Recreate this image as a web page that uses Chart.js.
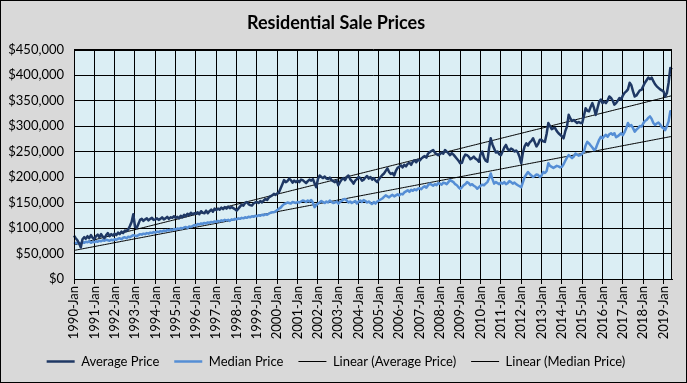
<!DOCTYPE html>
<html><head><meta charset="utf-8">
<script src="https://cdn.jsdelivr.net/npm/chart.js@4"></script>
<style>html,body{margin:0;padding:0;background:#d9d9d9;}#wrap{width:687px;height:383px;}</style>
</head><body><div id="wrap"><canvas id="c" width="687" height="383"></canvas></div>
<script>
const firstYear = 1990;
const monthNames = ['Jan','Feb','Mar','Apr','May','Jun','Jul','Aug','Sep','Oct','Nov','Dec'];

const avgPrice = [
 85000, 80000, 76000, 70000, 62000, 78000, 82000, 79000, 84000, 80000, 86000, 81000, // 1990
 78000, 84000, 87000, 82000, 88000, 83000, 80000, 86000, 90000, 84000, 88000, 85000, // 1991
 89000, 86000, 91000, 88000, 93000, 90000, 95000, 94000, 97000, 104000, 112000, 127000, // 1992
 103000, 100000, 108000, 116000, 118000, 114000, 117000, 119000, 115000, 118000, 120000, 116000, // 1993
 117000, 119000, 116000, 118000, 121000, 117000, 119000, 122000, 118000, 121000, 120000, 123000, // 1994
 120000, 122000, 119000, 124000, 121000, 126000, 123000, 128000, 125000, 130000, 127000, 129000, // 1995
 128000, 131000, 127000, 133000, 130000, 129000, 134000, 129000, 133000, 136000, 132000, 138000, // 1996
 135000, 138000, 136000, 140000, 137000, 141000, 138000, 142000, 139000, 141000, 139000, 137000, // 1997
 134000, 138000, 142000, 146000, 144000, 149000, 151000, 147000, 145000, 144000, 148000, 150000, // 1998
 151000, 149000, 153000, 150000, 154000, 157000, 155000, 160000, 162000, 164000, 167000, 165000, // 1999
 168000, 170000, 178000, 186000, 194000, 190000, 192000, 197000, 194000, 189000, 193000, 190000, // 2000
 193000, 190000, 195000, 194000, 191000, 188000, 192000, 195000, 193000, 196000, 188000, 180000, // 2001
 196000, 203000, 200000, 198000, 201000, 197000, 196000, 199000, 194000, 192000, 190000, 193000, // 2002
 184000, 190000, 195000, 198000, 194000, 200000, 203000, 196000, 192000, 187000, 193000, 196000, // 2003
 200000, 198000, 193000, 195000, 199000, 202000, 197000, 200000, 195000, 198000, 193000, 190000, // 2004
 196000, 200000, 204000, 207000, 212000, 217000, 210000, 206000, 208000, 203000, 212000, 218000, // 2005
 220000, 223000, 219000, 224000, 221000, 226000, 228000, 224000, 230000, 233000, 229000, 234000, // 2006
 232000, 236000, 239000, 241000, 238000, 246000, 249000, 251000, 253000, 248000, 245000, 243000, // 2007
 245000, 248000, 246000, 253000, 250000, 247000, 243000, 247000, 244000, 240000, 236000, 232000, // 2008
 227000, 228000, 238000, 244000, 243000, 240000, 235000, 237000, 240000, 236000, 234000, 230000, // 2009
 245000, 250000, 238000, 232000, 230000, 256000, 276000, 264000, 256000, 248000, 250000, 245000, // 2010
 243000, 250000, 258000, 263000, 255000, 252000, 256000, 254000, 250000, 252000, 248000, 240000, // 2011
 227000, 248000, 260000, 266000, 262000, 268000, 271000, 276000, 268000, 260000, 265000, 273000, // 2012
 273000, 270000, 269000, 285000, 306000, 300000, 294000, 296000, 296000, 290000, 286000, 283000, // 2013
 280000, 276000, 290000, 299000, 322000, 315000, 310000, 312000, 309000, 306000, 308000, 306000, // 2014
 306000, 320000, 335000, 330000, 329000, 338000, 345000, 335000, 322000, 335000, 348000, 352000, // 2015
 345000, 348000, 345000, 350000, 358000, 355000, 350000, 342000, 345000, 350000, 355000, 352000, // 2016
 360000, 365000, 368000, 372000, 385000, 380000, 368000, 358000, 360000, 365000, 370000, 371000, // 2017
 378000, 385000, 390000, 395000, 392000, 395000, 388000, 382000, 378000, 375000, 372000, 370000, // 2018
 368000, 358000, 365000, 385000, 414000, 411000 // 2019
];

const medianPrice = [
 72000, 70000, 71000, 69000, 70000, 72000, 71000, 73000, 72000, 74000, 71000, 73000, // 1990
 72000, 74000, 73000, 75000, 74000, 76000, 75000, 77000, 76000, 75000, 77000, 76000, // 1991
 78000, 77000, 79000, 80000, 78000, 81000, 82000, 80000, 83000, 82000, 84000, 86000, // 1992
 85000, 84000, 86000, 88000, 87000, 89000, 88000, 90000, 89000, 91000, 90000, 92000, // 1993
 91000, 93000, 92000, 94000, 93000, 95000, 94000, 96000, 95000, 97000, 96000, 98000, // 1994
 97000, 99000, 98000, 100000, 99000, 101000, 102000, 100000, 103000, 102000, 104000, 106000, // 1995
 105000, 108000, 107000, 109000, 108000, 110000, 109000, 111000, 110000, 112000, 111000, 113000, // 1996
 112000, 114000, 113000, 115000, 114000, 116000, 115000, 116000, 114000, 117000, 116000, 118000, // 1997
 117000, 119000, 118000, 120000, 119000, 121000, 120000, 122000, 121000, 123000, 122000, 124000, // 1998
 123000, 125000, 124000, 126000, 125000, 127000, 126000, 128000, 130000, 131000, 131000, 133000, // 1999
 135000, 138000, 140000, 144000, 147000, 148000, 150000, 149000, 148000, 151000, 150000, 149000, // 2000
 151000, 150000, 152000, 154000, 153000, 151000, 154000, 152000, 155000, 150000, 141000, 145000, // 2001
 148000, 150000, 153000, 151000, 149000, 152000, 150000, 154000, 151000, 149000, 150000, 152000, // 2002
 148000, 151000, 153000, 156000, 157000, 154000, 150000, 152000, 149000, 151000, 153000, 148000, // 2003
 152000, 154000, 151000, 155000, 153000, 150000, 152000, 149000, 147000, 151000, 148000, 152000, // 2004
 154000, 156000, 158000, 161000, 164000, 162000, 160000, 163000, 165000, 162000, 164000, 166000, // 2005
 164000, 167000, 166000, 170000, 172000, 174000, 171000, 175000, 173000, 176000, 174000, 177000, // 2006
 178000, 176000, 180000, 182000, 179000, 184000, 187000, 185000, 183000, 186000, 184000, 188000, // 2007
 187000, 185000, 189000, 188000, 186000, 190000, 194000, 192000, 190000, 186000, 184000, 180000, // 2008
 177000, 180000, 184000, 186000, 190000, 188000, 184000, 186000, 183000, 181000, 177000, 180000, // 2009
 183000, 185000, 184000, 187000, 190000, 197000, 207000, 196000, 187000, 190000, 188000, 186000, // 2010
 189000, 187000, 190000, 186000, 188000, 192000, 190000, 187000, 189000, 186000, 184000, 182000, // 2011
 180000, 190000, 200000, 205000, 210000, 206000, 203000, 200000, 202000, 205000, 204000, 200000, // 2012
 203000, 210000, 208000, 212000, 227000, 222000, 220000, 218000, 220000, 222000, 221000, 219000, // 2013
 220000, 225000, 232000, 238000, 243000, 240000, 237000, 240000, 246000, 244000, 242000, 243000, // 2014
 246000, 250000, 262000, 269000, 266000, 262000, 258000, 253000, 256000, 265000, 273000, 279000, // 2015
 276000, 280000, 283000, 279000, 284000, 286000, 283000, 286000, 278000, 280000, 283000, 286000, // 2016
 282000, 288000, 296000, 306000, 300000, 302000, 296000, 289000, 293000, 296000, 300000, 299000, // 2017
 305000, 310000, 312000, 316000, 319000, 314000, 306000, 302000, 305000, 307000, 303000, 298000, // 2018
 296000, 292000, 300000, 309000, 329000, 329000 // 2019
];

const seriesNames = ['Average Price', 'Median Price', 'Linear (Average Price)', 'Linear (Median Price)'];
const yTickValues = [0, 50000, 100000, 150000, 200000, 250000, 300000, 350000, 400000, 450000];

const categories = avgPrice.map((_, i) => (firstYear + Math.floor(i / 12)) + '-' + monthNames[i % 12]);

function linearFit(vals) {
  const n = vals.length; let sx = 0, sy = 0, sxx = 0, sxy = 0;
  vals.forEach((y, x) => { sx += x; sy += y; sxx += x * x; sxy += x * y; });
  const b = (n * sxy - sx * sy) / (n * sxx - sx * sx);
  const a = (sy - b * sx) / n;
  return vals.map((_, x) => a + b * x);
}

const framePlugin = {
  id: 'frame',
  beforeDraw(chart) {
    const { ctx, chartArea: a, width, height } = chart;
    ctx.save();
    ctx.fillStyle = '#d9d9d9'; ctx.fillRect(0, 0, width, height);
    ctx.fillStyle = '#dbeef4'; ctx.fillRect(a.left, a.top, a.right - a.left, a.bottom - a.top);
    ctx.restore();
  },
  afterDraw(chart) {
    const { ctx, chartArea: a, width, height } = chart;
    ctx.save();
    ctx.strokeStyle = '#000'; ctx.lineWidth = 1;
    ctx.strokeRect(Math.round(a.left) + 0.5, Math.round(a.top) + 0.5, Math.round(a.right - a.left) - 1, Math.round(a.bottom - a.top));
    ctx.strokeRect(0.5, 0.5, width - 1, height - 1);
    ctx.restore();
  }
};

const FONT = 'Lato, "Open Sans", sans-serif';
new Chart(document.getElementById('c'), {
  type: 'line',
  data: {
    labels: categories,
    datasets: [
      { label: seriesNames[0], data: avgPrice, borderColor: '#1f3864', backgroundColor: '#1f3864', borderWidth: 2.5, pointRadius: 0, borderJoinStyle: 'round' },
      { label: seriesNames[1], data: medianPrice, borderColor: '#558ed5', backgroundColor: '#558ed5', borderWidth: 2.5, pointRadius: 0, borderJoinStyle: 'round' },
      { label: seriesNames[2], data: linearFit(avgPrice), borderColor: '#000', backgroundColor: '#000', borderWidth: 1, pointRadius: 0 },
      { label: seriesNames[3], data: linearFit(medianPrice), borderColor: '#000', backgroundColor: '#000', borderWidth: 1, pointRadius: 0 }
    ]
  },
  options: {
    responsive: false, animation: false, devicePixelRatio: 1,
    layout: { padding: { left: 0, right: 15, top: 0, bottom: 5 } },
    plugins: {
      title: { display: true, text: 'Residential Sale Prices', color: '#000', font: { family: FONT, size: 18, weight: 'bold' }, padding: { top: 12, bottom: 16 } },
      legend: { position: 'bottom', labels: { usePointStyle: true, pointStyle: 'line', pointStyleWidth: 28, color: '#000', font: { family: FONT, size: 13 }, padding: 15 } },
      tooltip: { enabled: false }
    },
    scales: {
      x: {
        ticks: { autoSkip: false, maxRotation: 90, minRotation: 90, color: '#000', font: { family: FONT, size: 13 }, padding: 2 },
        grid: { color: '#000', lineWidth: 1, tickLength: 5 },
        border: { color: '#000' },
        afterBuildTicks: s => { s.ticks = s.ticks.filter(t => t.value % 12 === 0); },
        afterFit: s => { s.height = 61; }
      },
      y: {
        min: yTickValues[0], max: yTickValues[yTickValues.length - 1],
        ticks: { stepSize: yTickValues[1] - yTickValues[0], color: '#000', font: { family: FONT, size: 13 }, padding: 10, callback: v => '$' + v.toLocaleString('en-US') },
        grid: { color: '#000', drawTicks: false },
        border: { color: '#000' },
        afterFit: s => { s.width = 74; }
      }
    }
  },
  plugins: [framePlugin]
});
</script></body></html>
